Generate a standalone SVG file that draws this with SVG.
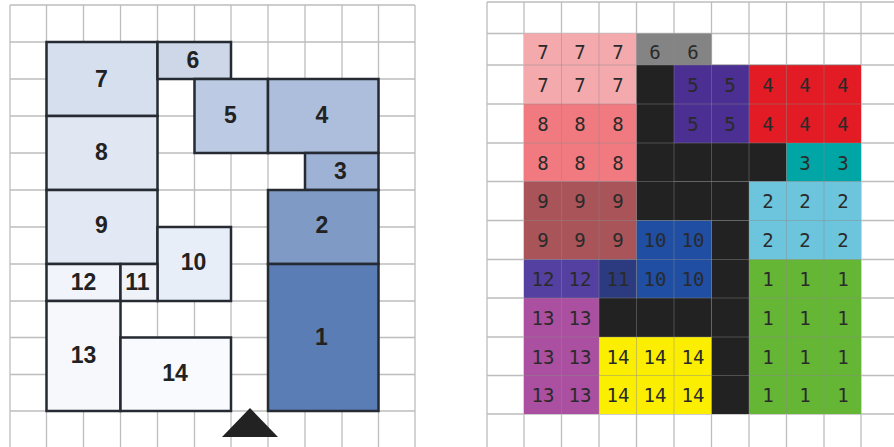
<svg xmlns="http://www.w3.org/2000/svg" width="894" height="447" viewBox="0 0 894 447">
<style>
.g{stroke:#bdbdbd;stroke-width:1.3;fill:none}
.r{stroke:#262b33;stroke-width:2.5}
.l{font:bold 23px "Liberation Sans",Arial,sans-serif;fill:#222;text-anchor:middle}
.c{stroke:none}
.m{font:19px "DejaVu Sans Mono",monospace;fill:#2a2a2a;text-anchor:middle}
.h{stroke:#8a8a8a;stroke-width:.8;stroke-opacity:.55;fill:none}
</style>
<rect width="894" height="447" fill="#fff"/>
<path class="g" d="M10 5H415M10 42H415M10 79H415M10 116H415M10 153H415M10 190H415M10 227H415M10 264H415M10 301H415M10 337.500H415M10 374.500H415M10 411H415M10 5V447M46.500 5V447M83.500 5V447M120.500 5V447M157.500 5V447M194.500 5V447M231 5V447M268 5V447M305 5V447M342 5V447M378.500 5V447M415 5V447"/>
<g id="room-7"><rect class="r" x="46.500" y="42" width="111" height="74" fill="#d6dfee"/><text class="l" x="101.500" y="87">7</text></g>
<g id="room-6"><rect class="r" x="157.500" y="42" width="73.500" height="37" fill="#cdd7e8"/><text class="l" x="193" y="68">6</text></g>
<g id="room-5"><rect class="r" x="194.500" y="79" width="73.500" height="74" fill="#bccbe3"/><text class="l" x="230.500" y="123">5</text></g>
<g id="room-4"><rect class="r" x="268" y="79" width="110.500" height="74" fill="#acbedb"/><text class="l" x="322" y="123">4</text></g>
<g id="room-3"><rect class="r" x="305" y="153" width="73.500" height="37" fill="#9db2d5"/><text class="l" x="340.500" y="179">3</text></g>
<g id="room-2"><rect class="r" x="268" y="190" width="110.500" height="74" fill="#7f9bc5"/><text class="l" x="322" y="233">2</text></g>
<g id="room-1"><rect class="r" x="268" y="264" width="110.500" height="147" fill="#5b7db5"/><text class="l" x="321.500" y="345">1</text></g>
<g id="room-8"><rect class="r" x="46.500" y="116" width="111" height="74" fill="#e0e6f2"/><text class="l" x="101.500" y="160">8</text></g>
<g id="room-9"><rect class="r" x="46.500" y="190" width="111" height="74" fill="#e3e9f4"/><text class="l" x="101.500" y="233">9</text></g>
<g id="room-10"><rect class="r" x="157.500" y="227" width="73.500" height="74" fill="#e8eef8"/><text class="l" x="193.500" y="270">10</text></g>
<g id="room-12"><rect class="r" x="46.500" y="264" width="74" height="37" fill="#f1f4fa"/><text class="l" x="83.500" y="290">12</text></g>
<g id="room-11"><rect class="r" x="120.500" y="264" width="37" height="37" fill="#eff3f9"/><text class="l" x="137.500" y="290">11</text></g>
<g id="room-13"><rect class="r" x="46.500" y="301" width="74" height="110" fill="#f6f8fc"/><text class="l" x="83.500" y="363">13</text></g>
<g id="room-14"><rect class="r" x="120.500" y="337.500" width="110.500" height="73.500" fill="#f8fafd"/><text class="l" x="175" y="381">14</text></g>
<polygon id="entrance" points="250,408 278,437 222,437" fill="#222"/>

<path class="g" d="M487 2H894M487 33.500H894M487 65H894M487 104H894M487 143H894M487 181.500H894M487 220.500H894M487 259.500H894M487 298H894M487 337H894M487 375.500H894M487 414H894M487 2V447M524 2V447M561.500 2V447M599 2V447M636.500 2V447M674 2V447M711.500 2V447M749 2V447M786.500 2V447M824 2V447M861 2V447"/>
<g class="c">
<rect x="524" y="33.500" width="112.500" height="70.500" fill="#f4a9ad"/>
<rect x="636.500" y="33.500" width="75" height="31.500" fill="#848484"/>
<rect x="636.500" y="65" width="37.500" height="155.500" fill="#222"/>
<rect x="674" y="143" width="112.500" height="38.500" fill="#222"/>
<rect x="674" y="181.500" width="75" height="39" fill="#222"/>
<rect x="711.500" y="220.500" width="37.500" height="193.500" fill="#222"/>
<rect x="599" y="298" width="112.500" height="39" fill="#222"/>
<rect x="674" y="65" width="75" height="78" fill="#4b2f92"/>
<rect x="749" y="65" width="112" height="78" fill="#e21b24"/>
<rect x="786.500" y="143" width="74.500" height="38.500" fill="#00a5a5"/>
<rect x="749" y="181.500" width="112" height="78" fill="#6cc5dc"/>
<rect x="749" y="259.500" width="112" height="154.500" fill="#66b635"/>
<rect x="524" y="104" width="112.500" height="77.500" fill="#f07a80"/>
<rect x="524" y="181.500" width="112.500" height="78" fill="#a85458"/>
<rect x="636.500" y="220.500" width="75" height="77.500" fill="#1f4ea3"/>
<rect x="524" y="259.500" width="75" height="38.500" fill="#5340a0"/>
<rect x="599" y="259.500" width="37.500" height="38.500" fill="#2c3a80"/>
<rect x="524" y="298" width="75" height="116" fill="#ab4fa0"/>
<rect x="599" y="337" width="112.500" height="77" fill="#fcee00"/>
</g>
<path class="h" d="M524 65H861M524 104H861M524 143H861M524 181.500H861M524 220.500H861M524 259.500H861M524 298H861M524 337H861M524 375.500H861M561.500 33.500V414M599 33.500V414M636.500 33.500V414M674 33.500V414M711.500 65V414M749 65V414M786.500 65V414M824 65V414"/>
<g class="m">
<text x="543" y="59">7</text><text x="580" y="59">7</text><text x="618" y="59">7</text><text x="655" y="59">6</text><text x="693" y="59">6</text>
<text x="543" y="92">7</text><text x="580" y="92">7</text><text x="618" y="92">7</text><text x="693" y="92">5</text><text x="730" y="92">5</text><text x="768" y="92">4</text><text x="805" y="92">4</text><text x="843" y="92">4</text>
<text x="543" y="131">8</text><text x="580" y="131">8</text><text x="618" y="131">8</text><text x="693" y="131">5</text><text x="730" y="131">5</text><text x="768" y="131">4</text><text x="805" y="131">4</text><text x="843" y="131">4</text>
<text x="543" y="170">8</text><text x="580" y="170">8</text><text x="618" y="170">8</text><text x="805" y="170">3</text><text x="843" y="170">3</text>
<text x="543" y="208">9</text><text x="580" y="208">9</text><text x="618" y="208">9</text><text x="768" y="208">2</text><text x="805" y="208">2</text><text x="843" y="208">2</text>
<text x="543" y="247">9</text><text x="580" y="247">9</text><text x="618" y="247">9</text><text x="655" y="247">10</text><text x="693" y="247">10</text><text x="768" y="247">2</text><text x="805" y="247">2</text><text x="843" y="247">2</text>
<text x="543" y="286">12</text><text x="580" y="286">12</text><text x="618" y="286">11</text><text x="655" y="286">10</text><text x="693" y="286">10</text><text x="768" y="286">1</text><text x="805" y="286">1</text><text x="843" y="286">1</text>
<text x="543" y="325">13</text><text x="580" y="325">13</text><text x="768" y="325">1</text><text x="805" y="325">1</text><text x="843" y="325">1</text>
<text x="543" y="364">13</text><text x="580" y="364">13</text><text x="618" y="364">14</text><text x="655" y="364">14</text><text x="693" y="364">14</text><text x="768" y="364">1</text><text x="805" y="364">1</text><text x="843" y="364">1</text>
<text x="543" y="402">13</text><text x="580" y="402">13</text><text x="618" y="402">14</text><text x="655" y="402">14</text><text x="693" y="402">14</text><text x="768" y="402">1</text><text x="805" y="402">1</text><text x="843" y="402">1</text>
</g>
</svg>
